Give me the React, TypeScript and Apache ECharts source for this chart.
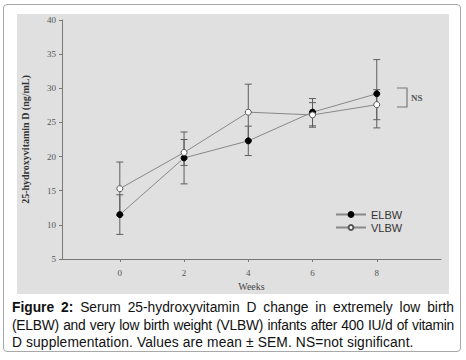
import React, { useEffect, useRef } from "react";
import * as echarts from "echarts";

const weeks = [0, 2, 4, 6, 8];
const elbwMean = [11.5, 19.8, 22.3, 26.5, 29.2];
const elbwSem = [2.9, 3.8, 2.15, 2.0, 5.0];
const vlbwMean = [15.3, 20.6, 26.5, 26.1, 27.6];
const vlbwSem = [3.9, 1.9, 4.1, 1.8, 2.2];
const yTicks = [5, 10, 15, 20, 25, 30, 35, 40];
const captionLines = [
  "Serum 25-hydroxyvitamin D change in extremely low birth",
  "(ELBW) and very low birth weight (VLBW) infants after 400 IU/d of vitamin",
  "D supplementation. Values are mean ± SEM. NS=not significant.",
];

const SERIF = "'Times New Roman', 'Liberation Serif', 'DejaVu Serif', serif";
const SANS = "Arial, 'Liberation Sans', sans-serif";

function errData(mean: number[], sem: number[]) {
  return weeks.map((w, i) => [w, mean[i] - sem[i], mean[i] + sem[i]]);
}

function errorRender(params: any, api: any) {
  const x = api.value(0);
  const lo = api.coord([x, api.value(1)]);
  const hi = api.coord([x, api.value(2)]);
  const cap = 3.5;
  const style = { stroke: "#5e5e5e", lineWidth: 1 };
  return {
    type: "group",
    children: [
      { type: "line", shape: { x1: hi[0], y1: hi[1], x2: lo[0], y2: lo[1] }, style },
      { type: "line", shape: { x1: hi[0] - cap, y1: hi[1], x2: hi[0] + cap, y2: hi[1] }, style },
      { type: "line", shape: { x1: lo[0] - cap, y1: lo[1], x2: lo[0] + cap, y2: lo[1] }, style },
    ],
  };
}

export default function App() {
  const ref = useRef<HTMLDivElement>(null);
  useEffect(() => {
    document.body.style.margin = "0";
    const chart = echarts.init(ref.current!, null, { renderer: "svg" });
    chart.setOption({
      animation: false,
      backgroundColor: "transparent",
      graphic: [
        {
          type: "rect",
          z: -10,
          silent: true,
          shape: { x: 17, y: 14, width: 432, height: 280 },
          style: { fill: "#e0e0e0" },
        },
        {
          type: "polyline",
          z: 10,
          shape: { points: [[397, 88], [407, 88], [407, 107], [397, 107]] },
          style: { stroke: "#777", lineWidth: 1.2, fill: null },
        },
        {
          type: "text",
          z: 10,
          x: 411,
          y: 98,
          style: { text: "NS", font: `bold 9px ${SERIF}`, fill: "#555", verticalAlign: "middle" },
        },
      ],
      grid: { left: 62, right: 25, top: 20, bottom: 101, containLabel: false },
      legend: {
        orient: "vertical",
        left: 330,
        top: 204,
        itemWidth: 30,
        itemHeight: 6,
        itemGap: 2,
        textStyle: { fontFamily: SANS, fontSize: 11, color: "#333" },
        data: ["ELBW", "VLBW"],
      },
      xAxis: {
        type: "value",
        min: -1.8,
        max: 10,
        name: "Weeks",
        nameLocation: "middle",
        nameGap: 22,
        nameTextStyle: { fontFamily: SERIF, fontSize: 10, color: "#444" },
        axisLine: { onZero: false, lineStyle: { color: "#777" } },
        axisTick: { show: true, length: 3, customValues: weeks, lineStyle: { color: "#777" } },
        axisLabel: { customValues: weeks, fontFamily: SERIF, fontSize: 9, color: "#555", margin: 9 },
        splitLine: { show: false },
      },
      yAxis: {
        type: "value",
        min: 5,
        max: 40,
        interval: 5,
        name: "25-hydroxyvitamin D (ng/mL)",
        nameLocation: "middle",
        nameGap: 32,
        nameTextStyle: { fontFamily: SERIF, fontSize: 10, fontWeight: "bold", color: "#333" },
        axisLine: { show: true, onZero: false, lineStyle: { color: "#777" } },
        axisTick: { show: true, length: 3, lineStyle: { color: "#777" } },
        axisLabel: { fontFamily: SERIF, fontSize: 9, color: "#555", margin: 6,
          formatter: (v: number) => (yTicks.includes(v) ? String(v) : "") },
        splitLine: { show: false },
      },
      series: [
        {
          type: "custom",
          name: "errELBW",
          renderItem: errorRender,
          data: errData(elbwMean, elbwSem),
          z: 1,
          silent: true,
        },
        {
          type: "custom",
          name: "errVLBW",
          renderItem: errorRender,
          data: errData(vlbwMean, vlbwSem),
          z: 1,
          silent: true,
        },
        {
          type: "line",
          name: "ELBW",
          data: weeks.map((w, i) => [w, elbwMean[i]]),
          symbol: "circle",
          symbolSize: 6,
          lineStyle: { color: "#888", width: 1 },
          itemStyle: { color: "#000", borderColor: "#000", borderWidth: 1 },
          z: 3,
        },
        {
          type: "line",
          name: "VLBW",
          data: weeks.map((w, i) => [w, vlbwMean[i]]),
          symbol: "circle",
          symbolSize: 6,
          lineStyle: { color: "#888", width: 1 },
          itemStyle: { color: "#fff", borderColor: "#555", borderWidth: 1 },
          z: 4,
        },
      ],
    });
    return () => chart.dispose();
  }, []);

  return (
    <div style={{ position: "absolute", left: 0, top: 0, width: 466, height: 360, background: "#fff", overflow: "hidden" }}>
      <div
        style={{
          position: "absolute",
          left: 3,
          top: 4,
          width: 458,
          height: 348,
          border: "1px solid #a8a8a8",
          borderRadius: 4,
          boxSizing: "border-box",
        }}
      />
      <div ref={ref} style={{ position: "absolute", left: 0, top: 0, width: 466, height: 360 }} />
      <div
        style={{
          position: "absolute",
          left: 12,
          top: 299,
          width: 442,
          fontFamily: SANS,
          fontSize: 13.8,
          lineHeight: "17.5px",
          color: "#111",
        }}
      >
        {captionLines.map((l, i) => (
          <div
            key={i}
            style={{
              textAlign: "justify",
              textAlignLast: i < captionLines.length - 1 ? "justify" : "left",
              letterSpacing: i === 1 ? "-0.25px" : i === 2 ? "0.12px" : "0px",
            }}
          >
            {i === 0 ? <b>Figure 2: </b> : null}
            {l}
          </div>
        ))}
      </div>
    </div>
  );
}
